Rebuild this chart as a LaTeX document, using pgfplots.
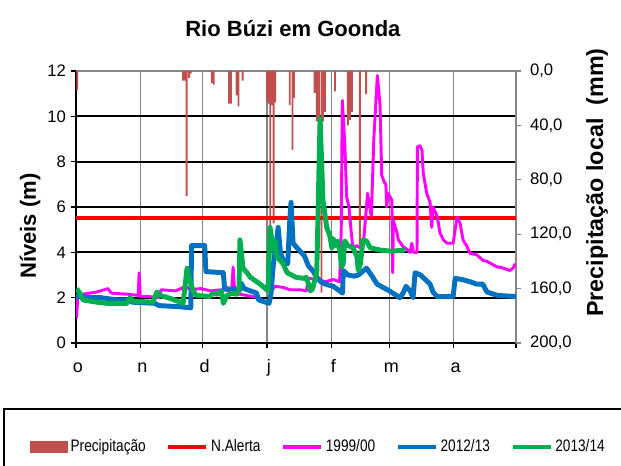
\documentclass[border=0pt]{standalone}
\usepackage{pgfplots}
\pgfplotsset{compat=1.18}
\usepackage{fontspec}
\setmainfont{Liberation Sans}
\newfontfamily\narrowfont[FakeStretch=0.82]{Liberation Sans}
\definecolor{precip}{RGB}{192,80,77}
\definecolor{alerta}{RGB}{255,0,0}
\definecolor{ynine}{RGB}{255,0,255}
\definecolor{ytwelve}{RGB}{0,112,192}
\definecolor{ythirteen}{RGB}{0,176,80}
\definecolor{gridgray}{RGB}{134,134,134}

\pgfplotstableread{
d mm
0.6 14
51.6 7
52.5 7
53.3 92
54.5 5
55.3 2
65.4 9
66.4 10
73.7 24
74.7 24
77.4 18
78.3 26
80.3 7
92 23
93 24
93.6 115
94.5 25
95.2 112
96 23
103 25
104.3 58
105 20
115 16
116 37
117 37
118.3 163
119 37
120 30
124.8 15
131 40
132 36
133 30
136.8 130
139.8 17
}\precipdata

\pgfplotstableread{
d lv
0 2.0
1.5 2.1
5 2.0
12 2.0
20 1.9
26 1.9
27 1.8
38 1.75
40 1.65
50 1.6
55.3 1.55
55.7 4.3
62 4.3
62.6 3.15
71 3.1
71.6 2.4
79 2.35
79.5 2.65
81 2.4
87 2.2
88 1.9
93 1.75
94 2.2
95 3.4
96.5 4.4
97.4 5.1
98.5 4.0
100 3.6
102 3.5
103 5.4
103.6 6.2
104.6 4.4
106 4.25
110 3.85
112 3.4
114 3.2
116 2.9
118 2.7
120 2.6
124 2.5
127 2.3
128.4 2.2
128.8 3.2
131 3.0
134 2.95
136 3.0
140 3.3
143 2.9
145 2.6
151 2.3
156 2.0
157.6 2.2
159 2.5
161 2.3
162.4 2.0
163.4 3.1
166 3.0
170.6 2.6
172 2.25
174 2.05
181.7 2.05
182.7 2.85
186 2.8
190 2.7
193 2.6
196 2.6
198 2.25
203 2.1
212 2.05
}\blue

\pgfplotstableread{
d lv
0.3 2.4
1.8 2.2
3.4 1.9
10 1.8
15 1.75
24.6 1.75
26 2.0
27.5 1.85
37 1.8
39 2.25
40.5 2.1
46 1.95
51.6 1.75
53.5 3.3
54.2 3.0
56.4 2.3
58 2.1
64.5 2.05
66 2.2
68 2.15
70 2.3
71 1.75
72.7 2.1
75 2.2
77.6 2.15
78.5 2.3
79 4.55
80.5 3.3
82.4 3.1
84 2.9
88.7 2.6
90 2.5
92.5 2.3
93.5 5.1
95 4.1
95.9 4.5
96.8 3.8
99.8 3.5
101.7 3.1
106 2.9
110 2.85
111 2.9
113 2.3
114 2.4
116 3.1
117.6 9.9
119 6.3
120.8 5.1
122.4 4.7
123.3 4.2
124 4.6
125 4.3
126 4.5
127.2 4.0
128 3.35
128.7 3.5
129.5 4.5
131 4.3
133.5 4.2
135.4 3.8
136 3.2
137 3.5
138.3 4.55
140 4.5
141.7 4.2
146.5 4.1
152 4.05
158.5 4.1
}\green

\pgfplotstableread{
d lv
0.3 1.1
0.8 2.0
3 2.15
10 2.25
15.4 2.4
17 2.2
25 2.15
30 2.1
30.4 3.1
31 2.05
35 2.05
40 2.0
41 2.35
48 2.3
53 2.5
55 2.35
60 2.4
65 2.3
70 2.35
75 2.3
75.7 3.35
76.5 2.2
82 2.1
88 2.0
91 1.8
93 1.8
94 2.3
96 2.5
100 2.45
103 2.35
108 2.35
111 2.3
112 2.85
117 2.8
120 2.7
124 2.8
127 2.7
127.8 5.0
128.3 10.7
129.5 8.8
130.4 6.45
131.5 6.0
132.5 5.0
133.5 4.1
135 4.3
137 4.2
138.5 4.4
139.3 5.3
140.5 6.6
141.5 6.0
142.3 5.6
143.5 9.0
145.2 11.8
146.5 10.5
147.3 7.4
148.5 7.1
149.3 7.0
149.7 6.0
150.4 6.6
152.2 6.3
152.6 3.1
152.9 5.4
154.7 4.85
155.3 4.55
157.6 4.25
158.5 4.2
161 4.0
161.8 4.4
162.6 4.0
164.3 4.0
164.5 8.65
165.8 8.7
166.7 8.5
167.3 7.5
169 6.6
170.6 6.2
171.4 5.1
172 6.0
174 5.6
175.4 4.85
177 4.55
178.8 4.4
181.7 4.4
183.6 5.55
185 5.3
186.5 4.55
188.4 4.25
189.9 3.95
193 3.9
196 3.65
198 3.6
203 3.35
204.3 3.35
209 3.2
210.6 3.3
211.6 3.5
}\magenta

\pgfplotsset{
  myaxis/.style={at={(57pt,91.5pt)}, anchor=south west, width=330pt, height=204pt,
    scale only axis, xmin=0, xmax=212,
    /pgf/number format/assume math mode=true,
    tick label style={font=\fontsize{12.5}{15}\selectfont}},
}

\begin{document}
\begin{tikzpicture}
\useasboundingbox (0,0) rectangle (465.75pt,348.75pt);
\draw[black, line width=0.9pt] (3pt,42pt) rectangle (480pt,-20pt);

% frame and grid
\begin{axis}[myaxis, ymin=0, ymax=12, ytick={0,2,...,12},
  xtick={0,31,61,92,123,151,182,212}, xticklabels={o,n,d,j,f,m,a,{}},
  grid=major, x grid style={gridgray, line width=1.1pt},
  y grid style={black, line width=1.4pt},
  axis lines*=left, axis line style={black, line width=1.6pt},
  tick style={black, line width=1pt}, tick align=outside, major tick length=4pt,
  xticklabel style={yshift=-5pt, xshift=1.5pt, text height=9.5pt, text depth=3pt,
    font=\fontsize{13.5}{16}\selectfont},
  ylabel={Níveis (m)},
  ylabel style={at={(axis description cs:-0.1045,0.43)}, anchor=center,
    font=\fontsize{16.5}{19}\selectfont\bfseries},
  title={Rio Búzi em Goonda},
  title style={at={(axis description cs:0.493,1.125)}, anchor=center,
    font=\fontsize{16.5}{19}\selectfont\bfseries},
]
\end{axis}

% precipitation
\begin{axis}[myaxis, ymin=0, ymax=200, y dir=reverse,
  axis x line*=top, axis y line*=right,
  axis line style={gridgray, line width=1.3pt},
  xtick=\empty, ytick={0,40,...,200}, scaled y ticks=false,
  tick style={gridgray, line width=1pt}, tick align=outside, major tick length=4pt,
  yticklabel style={anchor=west, xshift=3pt, /pgf/number format/fixed, /pgf/number format/fixed zerofill,
    /pgf/number format/precision=1, /pgf/number format/use comma},
  ylabel={Precipitação local\ \ (mm)},
  ylabel style={at={(axis description cs:1.184,0.59)}, anchor=center, rotate=0,
    font=\fontsize{17.5}{20}\selectfont\bfseries},
]
\addplot[ybar, bar width=0.9, fill=precip, draw=none] table[x=d, y=mm] {\precipdata};
\end{axis}

% levels
\begin{axis}[myaxis, ymin=0, ymax=12, hide axis,
  legend image code/.code={\draw[#1, line width=3pt] (0pt,0pt) -- (28.5pt,0pt);},
  legend style={at={(axis description cs:-0.105,-0.382)}, anchor=west,
    legend columns=5, draw=none, fill=none, inner sep=0pt,
    font=\narrowfont\fontsize{12.5}{15}\selectfont,
    /tikz/every even column/.append style={column sep=13.5pt}},
]
\addlegendimage{legend image code/.code={\fill[precip] (0pt,-4pt) rectangle (28pt,4pt);}}
\addlegendentry{Precipitação}
\addplot[alerta, line width=3.2pt] coordinates {(0,5.5) (212,5.5)};
\addlegendentry{N.Alerta}
\addplot[ynine, line width=2.2pt, line join=round] table[x=d, y=lv] {\magenta};
\addlegendentry{1999/00}
\addplot[ytwelve, line width=3.7pt, line join=round] table[x=d, y=lv] {\blue};
\addlegendentry{2012/13}
\addplot[ythirteen, line width=3.7pt, line join=round] table[x=d, y=lv] {\green};
\addlegendentry{2013/14}
\end{axis}
\end{tikzpicture}
\end{document}
